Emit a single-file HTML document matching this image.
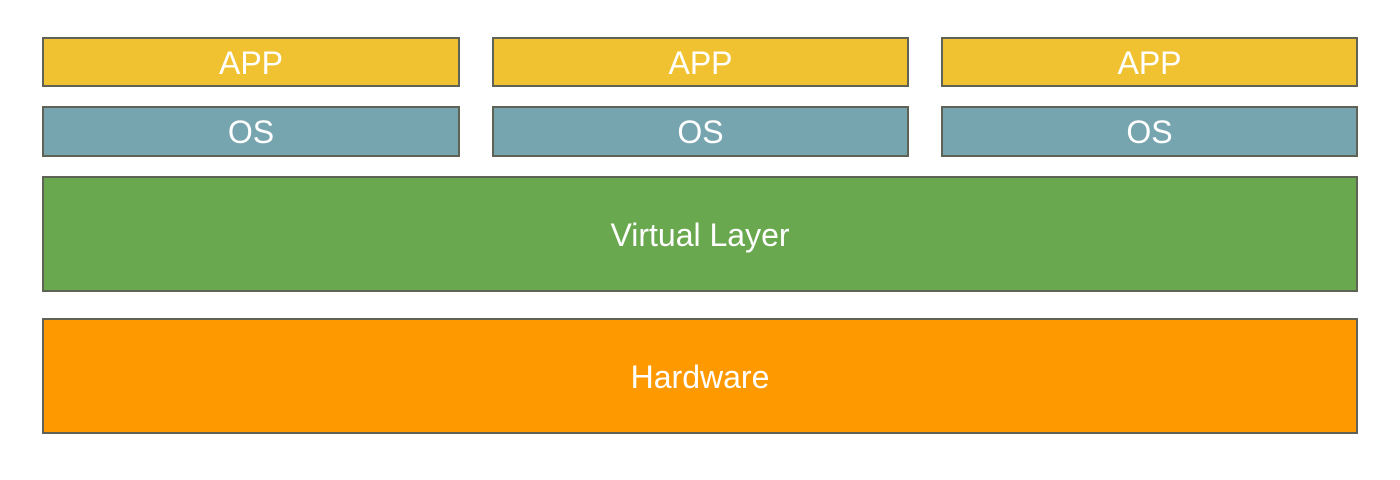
<!DOCTYPE html>
<html><head><style>
body{margin:0;width:1400px;height:480px;background:#fff;position:relative;font-family:"Liberation Sans",sans-serif;overflow:hidden}
.b{position:absolute;box-sizing:border-box;border:2px solid #5f6356;color:#fff;display:flex;align-items:center;justify-content:center;font-size:32px;padding-top:2px}
.a{background:#f0c232;top:37px;height:50px}
.o{background:#76a5af;top:106px;height:51px}
</style></head><body>
<div class="b a" style="left:42px;width:418px">APP</div>
<div class="b a" style="left:492px;width:417px">APP</div>
<div class="b a" style="left:941px;width:417px">APP</div>
<div class="b o" style="left:42px;width:418px">OS</div>
<div class="b o" style="left:492px;width:417px">OS</div>
<div class="b o" style="left:941px;width:417px">OS</div>
<div class="b" style="left:42px;width:1316px;top:176px;height:116px;background:#6aa84f">Virtual Layer</div>
<div class="b" style="left:42px;width:1316px;top:318px;height:116px;background:#ff9900">Hardware</div>
</body></html>
